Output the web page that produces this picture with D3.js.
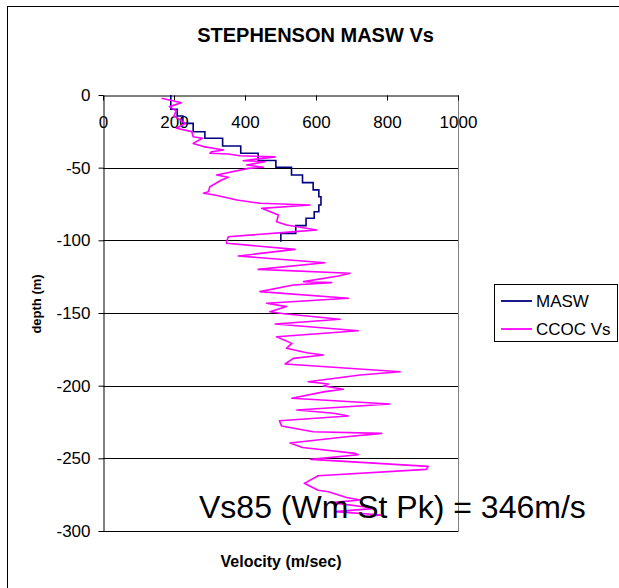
<!DOCTYPE html>
<html>
<head>
<meta charset="utf-8">
<script src="https://cdn.jsdelivr.net/npm/d3@7"></script>
<style>
  html, body { margin: 0; padding: 0; background: #fff; }
  svg { display: block; font-family: Arial, "Liberation Sans", sans-serif; }
</style>
</head>
<body>
<svg id="chart" width="619" height="588"></svg>
<script>
// Velocity axis ticks (m/sec) and depth axis ticks (m)
const velocityTicks = [0, 200, 400, 600, 800, 1000];
const depthTicks = [0, -50, -100, -150, -200, -250, -300];

// MASW layered profile: layer boundaries (m below surface) and layer Vs (m/sec)
const maswDepth = [0, 9.8, 14.4, 19.5, 25.3, 29.8, 35.1, 40.1, 45.1, 49.7, 55.0,
                   60.3, 65.3, 70.0, 75.7, 80.3, 84.8, 89.9, 95.2, 101];
const maswVs = [191, 209, 225, 254, 287, 337, 388, 437, 487, 531, 562,
                592, 608, 614, 608, 595, 572, 543, 501];

// CCOC downhole Vs log: depth (m below surface) and Vs (m/sec)
const ccocDepth = [2.3, 5.3, 8, 10.8, 14.4, 19.5, 22.9, 25.2, 28.7, 29.8, 33.3, 35.5,
  37.8, 39, 40.1, 40.6, 41.8, 42.6, 45.2, 45.9, 48.2, 49.7, 50.5, 55, 56.6, 58.5,
  63.1, 66.5, 67.6, 68.8, 72.2, 74.5, 75.7, 78, 82.6, 87.2, 89.5, 92.9, 94, 97.5,
  101, 102, 106.2, 110.8, 115.4, 120, 122.7, 124.5, 128.4, 129.1, 130.7, 135.3,
  139.9, 143.3, 145.6, 149.1, 150.5, 154.3, 157.6, 162.2, 166.3, 170.9, 174.3,
  177.3, 178.9, 181.2, 185.1, 190.4, 192.7, 197.3, 198.9, 200.2, 202.5, 204.1,
  208.7, 212.6, 216.7, 219, 220.9, 224.1, 227.8, 231.7, 232.8, 235.1, 239.5,
  242.5, 246.6, 247.5, 250.7, 255.5, 257.6, 262, 267.2, 272, 273, 277, 278.7,
  280.5, 284.4, 286.7, 289, 290.2];
const ccocVs = [165, 221, 187, 206, 200, 232, 207, 250, 254, 280, 254, 283,
  340, 306, 301, 353, 386, 485, 395, 456, 405, 452, 410, 320, 353, 334,
  301, 297, 283, 315, 377, 442, 583, 447, 494, 489, 517, 602, 541, 353,
  348, 348, 541, 381, 625, 437, 696, 663, 565, 644, 536, 442,
  691, 461, 517, 470, 510, 668, 485, 719, 489, 532, 517,
  574, 621, 536, 513, 837, 724, 578, 635, 621, 677, 625,
  532, 808, 546, 649, 691, 497, 503, 592, 785, 686, 527,
  562, 710, 719, 585, 916, 911, 606, 567, 606, 635, 686, 724,
  644, 766, 654, 785, 733];

const chartTitle = "STEPHENSON MASW Vs";
const xTitle = "Velocity (m/sec)";
const yTitle = "depth (m)";
const seriesNames = ["MASW", "CCOC Vs"];
const seriesColors = ["#000080", "#FF00FF"];
const noteText = "Vs85 (Wm St Pk) = 346m/s";

const svg = d3.select("#chart");

const plot = { left: 103, right: 458, top: 95, bottom: 531 };
const x = d3.scaleLinear().domain([0, 1000]).range([plot.left, plot.right]);
const y = d3.scaleLinear().domain([0, -300]).range([plot.top, plot.bottom]);

// plain hyphen for negative numbers
const fmt = d => String(d);

// chart area frame
svg.append("rect")
  .attr("x", 7.5).attr("y", 6.5)
  .attr("width", 640).attr("height", 620)
  .attr("fill", "#fff").attr("stroke", "#000").attr("stroke-width", 1);

// title
svg.append("text")
  .attr("x", 315.5).attr("y", 42)
  .attr("text-anchor", "middle")
  .attr("font-weight", "bold").attr("font-size", 20)
  .text(chartTitle);

// horizontal gridlines
svg.append("g")
  .selectAll("line")
  .data(depthTicks.filter(d => d !== 0))
  .join("line")
  .attr("x1", plot.left).attr("x2", plot.right + 1)
  .attr("y1", d => Math.round(y(d)) + 0.5).attr("y2", d => Math.round(y(d)) + 0.5)
  .attr("stroke", "#000").attr("stroke-width", 1);

// plot area right edge
svg.append("line")
  .attr("x1", plot.right + 0.5).attr("x2", plot.right + 0.5)
  .attr("y1", plot.top).attr("y2", plot.bottom + 1)
  .attr("stroke", "#808080").attr("stroke-width", 1);

// velocity axis along depth 0, labels below the line
const xAxis = svg.append("g")
  .attr("transform", `translate(0,${Math.round(y(0)) + 0.5})`)
  .call(d3.axisBottom(x).tickValues(velocityTicks).tickSize(5).tickPadding(15)
        .tickSizeOuter(0).tickFormat(fmt));
xAxis.select(".domain").attr("stroke", "#000");
xAxis.selectAll(".tick line").attr("stroke", "#000");
xAxis.selectAll("text").attr("font-size", 17).attr("font-family", "Arial, 'Liberation Sans', sans-serif").attr("fill", "#000");

// depth axis
const yAxis = svg.append("g")
  .attr("transform", `translate(${plot.left + 0.5},0)`)
  .call(d3.axisLeft(y).tickValues(depthTicks).tickSize(5).tickPadding(8)
        .tickSizeOuter(0).tickFormat(fmt));
yAxis.select(".domain").attr("stroke", "#000");
yAxis.selectAll(".tick line").attr("stroke", "#000");
yAxis.selectAll("text").attr("font-size", 17).attr("font-family", "Arial, 'Liberation Sans', sans-serif").attr("fill", "#000");

// axis titles
svg.append("text")
  .attr("x", 281).attr("y", 567)
  .attr("text-anchor", "middle")
  .attr("font-weight", "bold").attr("font-size", 16)
  .text(xTitle);
svg.append("text")
  .attr("transform", "translate(41,304) rotate(-90)")
  .attr("text-anchor", "middle")
  .attr("font-weight", "bold").attr("font-size", 13)
  .text(yTitle);

// MASW stepped profile
const maswPts = [];
maswVs.forEach((v, i) => {
  maswPts.push([v, -maswDepth[i]]);
  maswPts.push([v, -maswDepth[i + 1]]);
});
const line = d3.line().x(d => x(d[0])).y(d => y(d[1]));
svg.append("path")
  .attr("d", line(maswPts))
  .attr("fill", "none").attr("stroke", seriesColors[0]).attr("stroke-width", 1.6);

// CCOC Vs log
const ccocPts = ccocVs.map((v, i) => [v, -ccocDepth[i]]);
svg.append("path")
  .attr("d", line(ccocPts))
  .attr("fill", "none").attr("stroke", seriesColors[1]).attr("stroke-width", 1.6)
  .attr("stroke-linejoin", "round");

// legend
const legend = svg.append("g");
legend.append("rect")
  .attr("x", 494.5).attr("y", 284.5).attr("width", 123).attr("height", 57)
  .attr("fill", "#fff").attr("stroke", "#000").attr("stroke-width", 1);
seriesNames.forEach((name, i) => {
  const ly = 301 + i * 28;
  legend.append("line")
    .attr("x1", 501).attr("x2", 532).attr("y1", ly).attr("y2", ly)
    .attr("stroke", seriesColors[i]).attr("stroke-width", 1.8);
  legend.append("text")
    .attr("x", 536).attr("y", ly + 6)
    .attr("font-size", 17)
    .text(name);
});

// Vs85 note
svg.append("text")
  .attr("x", 199).attr("y", 518)
  .attr("font-size", 32)
  .text(noteText);
</script>
</body>
</html>
